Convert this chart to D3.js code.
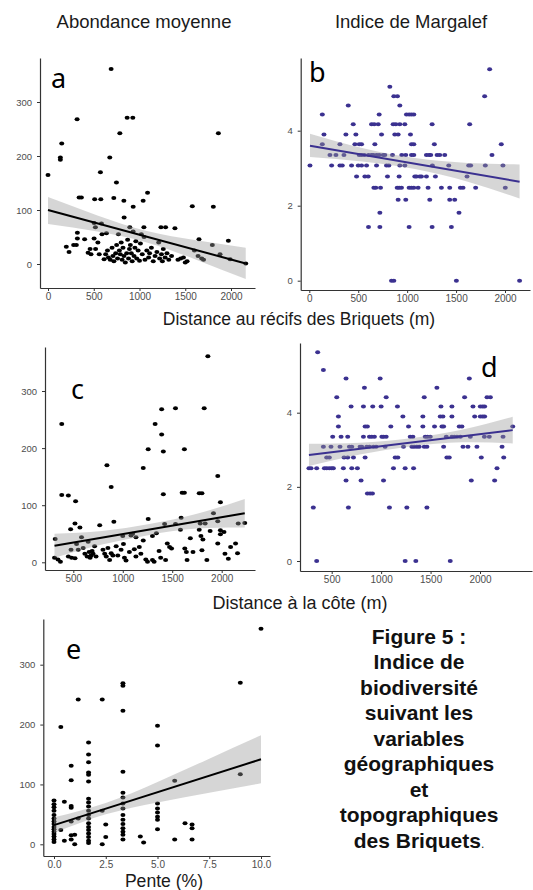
<!DOCTYPE html>
<html>
<head>
<meta charset="utf-8">
<script src="https://cdn.jsdelivr.net/npm/d3@7"></script>
<style>
  body { margin: 0; background: #fff; }
  svg { display: block; }
</style>
</head>
<body>
<div id="chart"></div>
<script>
// a : abondance vs distance au récif
let pointsA = [
  [0,165],[135,197],[135,193],[150,223],[318,268],[690,361],[675,197],[573,170],[748,151],[785,242],
  [865,271],[927,271],[1862,242],[1040,117],[1088,132],[829,117],[931,106],[719,122],[510,120],[577,120],
  [340,123],[365,123],[1577,107],[1807,106],
  [832,86],[894,68],[1048,68],[1234,68],[1285,68],[1387,66],[504,76],[518,68],[584,75],[639,57],
  [321,58],[321,47],[400,46],[1650,46],[1796,35],[1971,43],
  [200,32],[230,22],[280,35],[310,35],[438,21],[460,28],[470,18],[504,47],[520,28],[545,40],
  [560,18],[590,55],[613,9],[630,18],[650,25],[660,12],[680,8],[700,30],[710,15],[720,5],
  [740,20],[750,35],[760,10],[770,55],[780,25],[790,18],[800,40],[810,8],[820,30],[830,15],
  [845,3],[860,20],[870,45],[880,10],[890,28],[900,35],[910,20],[920,5],[930,60],[940,15],
  [950,30],[960,42],[970,10],[985,25],[1000,6],[1010,38],[1020,55],[1030,18],[1050,50],[1060,8],
  [1080,25],[1100,12],[1110,20],[1130,30],[1150,5],[1170,15],[1190,22],[1210,40],[1220,10],[1240,18],
  [1250,5],[1260,28],[1280,12],[1300,20],[1320,8],[1350,15],[1420,8],[1450,10],[1480,12],[1500,3],
  [1520,5],[1600,25],[1640,15],[1680,10],[1700,8],[1880,18],[1990,9],[2161,1]
]
let fitA = [[0,100],[2161,1]]
let bandA = [[0,74,124],[540,60,90],[1080,40,61],[1620,8,44],[2161,-28,30]]

// b : Margalef vs distance au récif
let pointsB = [
  [7,3.07],[133,4.43],[150,3.9],[133,3.64],[211,3.35],[228,3.07],[272,3.35],[313,3.64],[313,3.07],[337,3.07],
  [354,3.35],[374,3.9],[398,4.67],[432,3.07],[449,4.17],[466,3.64],[510,3.64],[534,3.64],[476,3.9],[483,2.78],
  [510,3.35],[534,3.35],[561,3.35],[500,3.07],[534,3.07],[568,2.78],[602,2.78],[585,3.07],[605,3.35],[636,3.35],
  [653,3.35],[605,1.43],[636,4.17],[663,4.17],[704,4.17],[670,3.64],[660,2.48],[680,2.48],[687,3.35],[714,3.35],
  [687,3.07],[714,4.43],[721,1.81],[721,1.43],[728,2.48],[738,3.9],[755,3.35],[772,3.35],[789,3.07],[813,3.07],
  [799,2.78],[823,5.17],[840,0],[864,0],[850,3.35],[864,4.92],[901,4.92],[857,4.17],[884,4.17],[925,4.17],
  [976,4.17],[874,3.9],[908,3.9],[898,2.48],[918,2.48],[942,2.48],[908,2.16],[918,2.78],[925,3.07],[925,4.67],
  [945,3.35],[976,3.07],[986,2.16],[986,3.35],[993,4.43],[1020,4.43],[1044,4.43],[1068,4.43],[1020,2.48],[1044,2.48],
  [1020,1.43],[1034,3.9],[1044,3.64],[1068,3.64],[1044,3.35],[1068,3.35],[1068,2.48],[1078,2.78],[1095,2.78],[1129,2.78],
  [1112,2.48],[1146,2.78],[1197,2.78],[1197,3.35],[1224,3.35],[1241,3.35],[1214,2.48],[1231,2.16],[1255,4.17],[1255,1.43],
  [1258,3.07],[1278,3.64],[1289,2.78],[1306,3.35],[1333,3.35],[1350,2.48],[1384,3.35],[1425,3.07],[1435,2.48],[1435,2.16],
  [1486,2.16],[1452,1.43],[1503,0],[1530,1.81],[1544,2.48],[1571,2.48],[1629,3.07],[1649,3.07],[1612,2.78],[1639,4.17],
  [1700,2.48],[1792,4.92],[1799,3.07],[1843,5.64],[1867,3.35],[1962,3.64],[1979,3.07],[2003,2.48],[2149,0]
]
let fitB = [[7,3.6],[2149,2.64]]
let bandB = [[7,3.3,3.92],[540,3.18,3.54],[1080,2.98,3.27],[1620,2.64,3.14],[2149,2.19,3.1]]

// c : abondance vs distance à la côte
let pointsC = [
  [317,41],[310,8],[345,5],[370,1],[383,242],[383,118],[450,117],[517,68],[567,61],[523,107],
  [473,58],[477,22],[450,10],[483,8],[517,7],[533,32],[550,22],[583,44],[600,25],[617,15],
  [640,10],[650,36],[660,18],[670,8],[680,12],[690,20],[700,15],[715,28],[730,10],[767,65],
  [800,22],[817,15],[833,10],[850,25],[867,4],[840,170],[883,132],[910,71],[883,16],[900,12],
  [933,28],[950,12],[983,22],[1000,46],[1007,32],[1017,8],[1033,3],[1067,18],[1083,47],[1100,50],
  [1117,23],[1133,10],[1167,27],[1183,15],[1133,44],[1207,165],[1207,38],[1233,5],[1250,1],[1257,198],
  [1257,76],[1300,46],[1300,4],[1317,1],[1327,242],[1340,51],[1367,20],[1383,8],[1393,268],[1393,224],
  [1410,194],[1410,119],[1423,67],[1433,4],[1450,33],[1473,27],[1493,24],[1533,270],[1533,67],[1583,57],
  [1590,78],[1600,122],[1623,122],[1623,198],[1627,24],[1643,18],[1650,4],[1683,42],[1710,18],[1773,57],
  [1783,68],[1800,21],[1790,46],[1810,40],[1773,121],[1800,121],[1823,270],[1833,68],[1860,361],[1850,4],
  [1883,55],[1917,86],[1960,151],[1960,72],[1960,33],[1987,105],[1987,49],[1987,56],[2023,53],[2033,15],
  [2067,6],[2090,27],[2140,33],[2160,16],[2167,68],[2233,69]
]
let fitC = [[310,29],[2233,86]]
let bandC = [[310,8,50],[790,31,55],[1270,48,67],[1750,59,85],[2233,61,111]]

// d : Margalef vs distance à la côte
let pointsD = [
  [270,2.5],[291,2.5],[314,1.44],[348,0],[358,5.63],[348,2.5],[416,5.15],[416,3.08],[426,2.5],[449,2.5],
  [476,2.5],[500,2.5],[517,2.5],[449,2.79],[476,2.79],[493,3.08],[510,3.35],[551,4.42],[568,3.9],[568,3.63],
  [584,3.08],[595,3.35],[618,2.5],[625,2.79],[645,4.92],[645,2.17],[662,3.35],[662,2.79],[669,1.44],[679,3.08],
  [703,3.08],[696,4.17],[703,2.5],[720,2.79],[760,2.5],[787,3.08],[804,3.08],[797,2.17],[821,4.17],[821,3.35],
  [838,3.63],[861,3.63],[831,4.67],[838,2.79],[855,3.08],[882,3.08],[882,3.35],[905,3.35],[932,3.35],[861,1.82],
  [888,1.82],[912,1.82],[922,3.08],[949,3.08],[915,4.17],[990,4.92],[1000,4.17],[1007,3.35],[1024,3.35],[1051,3.35],
  [1024,2.17],[1040,3.08],[1051,4.42],[1084,1.44],[1098,3.63],[1125,2.5],[1142,2.79],[1169,2.79],[1165,4.17],[1220,3.9],
  [1226,3.08],[1243,2.5],[1243,0],[1260,1.44],[1277,3.63],[1294,3.35],[1321,3.35],[1311,3.08],[1334,3.08],[1361,3.08],
  [1385,3.08],[1328,2.5],[1351,0],[1422,3.63],[1422,3.9],[1436,4.42],[1446,3.35],[1469,3.35],[1497,3.35],[1436,3.08],
  [1463,3.08],[1463,1.44],[1540,3.63],[1564,4.67],[1598,3.9],[1625,3.9],[1605,4.17],[1615,3.63],[1632,3.63],[1632,3.08],
  [1659,3.35],[1665,2.79],[1689,2.79],[1716,4.17],[1716,3.9],[1716,3.35],[1699,0],[1740,3.35],[1767,3.35],[1801,3.35],
  [1790,3.63],[1817,3.63],[1828,3.08],[1844,4.42],[1878,3.08],[1892,4.92],[1902,3.35],[1912,2.17],[1929,4.17],[1946,3.9],
  [1969,3.08],[2003,4.17],[2027,4.17],[2047,4.17],[2003,3.9],[2027,3.9],[2047,3.9],[2013,2.79],[2044,3.35],[2071,4.42],
  [2105,4.42],[2094,3.35],[2148,2.17],[2172,2.5],[2223,3.08],[2233,3.35],[2240,2.79],[2331,3.63]
]
let fitD = [[270,2.86],[2331,3.53]]
let bandD = [[270,2.56,3.16],[785,2.87,3.19],[1300,3.09,3.31],[1815,3.2,3.54],[2331,3.17,3.89]]

// e : abondance vs pente
let pointsE = [
  [0,73],[0,67],[0,62],[0,56],[0,49],[0,43],[0,38],[0,34],[0,29],[0,25],[0,21],[0,17],[0,13],[0,8],[0,4],
  [0.33,196],[0.33,24],[0.5,71],[0.5,6],
  [0.83,131],[0.83,107],[0.83,64],[0.83,61],[0.83,38],[0.83,15],[0.83,8],
  [1,0],[1,16],[1.17,242],[1.17,43],
  [1.67,170],[1.67,150],[1.67,137],[1.67,120],[1.67,116],[1.67,105],[1.67,76],[1.67,70],[1.67,63],[1.67,56],
  [1.67,49],[1.67,43],[1.67,35],[1.67,29],[1.67,24],[1.67,18],[1.67,12],[1.67,6],[1.67,2],
  [2.33,242],[2.33,0],[2.33,56],[2.5,33],[2.5,12],
  [3.33,269],[3.33,265],[3.33,223],[3.33,121],[3.33,86],[3.33,78],[3.33,68],[3.33,60],[3.33,49],[3.33,41],
  [3.33,34],[3.33,27],[3.33,21],[3.33,16],[3.33,8],
  [4.17,13],[4.33,3],
  [5,198],[5,165],[5,68],[5,60],[5,53],[5,46],[5,41],[5,25],
  [5.83,106],[5.83,8],[6.33,35],[6.67,33],[6.67,27],[6.67,8],
  [9,270],[9,117],[10,360]
]
let fitE = [[0,32],[10,142]]
let bandE = [[0,19,45],[2.5,50,69],[5,70,104],[7.5,86,143],[10,102,182]]

let distTicks = [0, 500, 1000, 1500, 2000]
let coteTicks = [500, 1000, 1500, 2000]
let penteTicks = [0, 2.5, 5, 7.5, 10]
let abondTicks = [0, 100, 200, 300]
let margTicks = [0, 2, 4]

let captionLines = ["Figure 5 :", "Indice de", "biodiversité", "suivant les", "variables",
  "géographiques", "et", "topographiques", "des Briquets"]

let black = "#000"
let blue = "#3b3190"

let svg = d3.select("#chart")
  .append("svg")
  .attr("width", 533)
  .attr("height", 890)

// scale calibrated on two ticks, then stretched to the axis box
function makeScale(v0, p0, v1, p1, start, end) {
  let s = d3.scaleLinear().domain([v0, v1]).range([p0, p1])
  return d3.scaleLinear().domain([s.invert(start), s.invert(end)]).range([start, end])
}

function styleAxis(g) {
  g.select(".domain").attr("stroke", "#333").attr("stroke-width", 1.2)
  g.selectAll(".tick line").attr("stroke", "#333").attr("stroke-width", 1)
  g.selectAll(".tick text")
    .attr("fill", "#4d4d4d")
    .style("font", "10px 'Liberation Sans', Arial, sans-serif")
}

function drawPanel(p) {
  let x = makeScale(...p.xCal, p.left, p.right)
  let y = makeScale(...p.yCal, p.bottom, p.top)
  let g = svg.append("g")

  g.append("g")
    .selectAll("ellipse")
    .data(p.points)
    .enter().append("ellipse")
      .attr("cx", d => x(d[0]))
      .attr("cy", d => y(d[1]))
      .attr("rx", 2.5)
      .attr("ry", 2)
      .attr("fill", p.color)

  let area = d3.area()
    .x(d => x(d[0]))
    .y0(d => y(d[1]))
    .y1(d => y(d[2]))
    .curve(d3.curveNatural)

  g.append("path")
    .datum(p.band)
    .attr("d", area)
    .attr("fill", "#999")
    .attr("fill-opacity", 0.4)

  g.append("path")
    .datum(p.fit)
    .attr("d", d3.line().x(d => x(d[0])).y(d => y(d[1])))
    .attr("fill", "none")
    .attr("stroke", p.color)
    .attr("stroke-width", 2)

  g.append("g")
    .attr("transform", `translate(0,${p.bottom})`)
    .call(d3.axisBottom(x).tickValues(p.xTicks).tickSize(3).tickSizeOuter(0).tickPadding(2)
      .tickFormat(p.xFormat || d3.format("d")))
    .call(styleAxis)

  g.append("g")
    .attr("transform", `translate(${p.left},0)`)
    .call(d3.axisLeft(y).tickValues(p.yTicks).tickSize(3).tickSizeOuter(0).tickPadding(5)
      .tickFormat(d3.format("d")))
    .call(styleAxis)
    .call(g => g.selectAll(".tick text").style("font-size", "9.5px"))

  svg.append("text")
    .attr("x", p.letter[1])
    .attr("y", p.letter[2])
    .style("font", "27px 'Noto Sans', 'Open Sans', sans-serif")
    .attr("fill", "#000")
    .text(p.letter[0])
}

drawPanel({points: pointsA, fit: fitA, band: bandA, color: black,
  left: 40, right: 255, top: 58, bottom: 288,
  xCal: [0, 48, 2000, 231], yCal: [0, 264, 300, 102],
  xTicks: distTicks, yTicks: abondTicks, letter: ["a", 51, 88]})

drawPanel({points: pointsB, fit: fitB, band: bandB, color: blue,
  left: 300.7, right: 530, top: 58, bottom: 290,
  xCal: [0, 309.3, 2000, 505], yCal: [0, 280.7, 4, 130.7],
  xTicks: distTicks, yTicks: margTicks, letter: ["b", 309, 82]})

drawPanel({points: pointsC, fit: fitC, band: bandC, color: black,
  left: 45, right: 255, top: 347, bottom: 570,
  xCal: [500, 73.3, 2000, 221.7], yCal: [0, 562.3, 300, 391],
  xTicks: coteTicks, yTicks: abondTicks, letter: ["c", 71, 399]})

drawPanel({points: pointsD, fit: fitD, band: bandD, color: blue,
  left: 300, right: 532, top: 343, bottom: 571,
  xCal: [500, 331.7, 2000, 480], yCal: [0, 561, 4, 412.7],
  xTicks: coteTicks, yTicks: margTicks, letter: ["d", 481, 377]})

drawPanel({points: pointsE, fit: fitE, band: bandE, color: black,
  left: 43.3, right: 270, top: 619, bottom: 856,
  xCal: [0, 54, 10, 261], yCal: [0, 844.3, 300, 664.7],
  xTicks: penteTicks, yTicks: abondTicks, xFormat: d3.format(".1f"), letter: ["e", 66, 659]})

// titres et légendes d'axes
let labels = [
  ["Abondance moyenne", 144, 28, 18.5],
  ["Indice de Margalef", 411, 28, 18.5],
  ["Distance au récifs des Briquets (m)", 299, 325, 17.5],
  ["Distance à la côte (m)", 300, 609, 18],
  ["Pente (%)", 164, 887, 17.6]
]

svg.append("g")
  .selectAll("text")
  .data(labels)
  .enter().append("text")
    .attr("x", d => d[1])
    .attr("y", d => d[2])
    .attr("text-anchor", "middle")
    .attr("fill", "#1a1a1a")
    .style("font-family", "'Liberation Sans', Arial, sans-serif")
    .style("font-size", d => d[3] + "px")
    .text(d => d[0])

let caption = svg.append("g")
  .attr("text-anchor", "middle")
  .attr("fill", "#111")
  .style("font", "bold 21px 'Liberation Sans', Arial, sans-serif")

caption.selectAll("text")
  .data(captionLines)
  .enter().append("text")
    .attr("x", 419)
    .attr("y", (d, i) => 643.5 + i * 25.5)
    .text(d => d)

caption.select("text:last-child")
  .append("tspan")
  .style("font-weight", "normal")
  .style("font-size", "12px")
  .text(".")
</script>
</body>
</html>
